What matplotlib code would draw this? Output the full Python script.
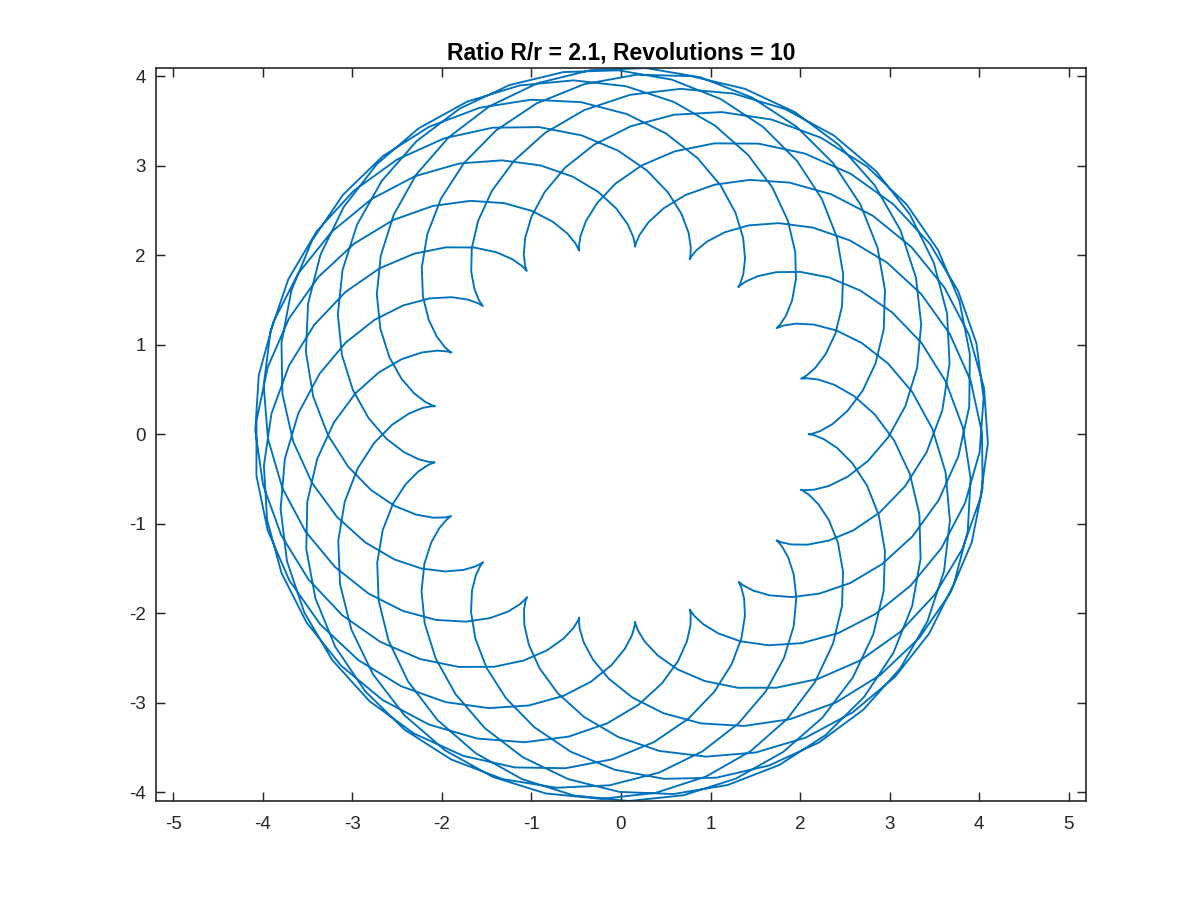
import numpy as np
import matplotlib
matplotlib.use('Agg')
import matplotlib.pyplot as plt

# spirograph parameters (read from the title)
ratio = 2.1          # R/r
revolutions = 10
r_small = 1.0
R_big = ratio * r_small
step = 0.1           # parameter step, t = 0:0.1:2*pi*revolutions

t = np.arange(0, 2 * np.pi * revolutions, step)
x = (R_big + r_small) * np.cos(t) - r_small * np.cos((R_big + r_small) / r_small * t)
y = (R_big + r_small) * np.sin(t) - r_small * np.sin((R_big + r_small) / r_small * t)

plt.rcParams['font.family'] = ['Liberation Sans', 'DejaVu Sans']
plt.rcParams['axes.unicode_minus'] = False

fig = plt.figure(figsize=(8, 6), dpi=150)
ax = fig.add_axes([0.13, 0.11, 0.775, 0.815])
ax.plot(x, y, color='#0072BD', linewidth=0.9)

# axis equal, tight in y
ymax = np.abs(y).max()
box_w, box_h = 0.775 * 1200, 0.815 * 900
xmax = ymax * box_w / box_h
ax.set_ylim(-ymax, ymax)
ax.set_xlim(-xmax, xmax)

ax.set_xticks(range(-5, 6))
ax.set_yticks(range(-4, 5))
ax.tick_params(direction='in', length=4.5, width=0.7, top=True, right=True,
               labelsize=9, colors='#262626')
ax.tick_params(axis='x', pad=7)
ax.tick_params(axis='y', pad=5)
for s in ax.spines.values():
    s.set_linewidth(0.8)
    s.set_color('#262626')

ax.set_title('Ratio R/r = 2.1, Revolutions = 10', fontsize=11,
             fontweight='bold', pad=4)

fig.savefig('out.png', dpi=150)
